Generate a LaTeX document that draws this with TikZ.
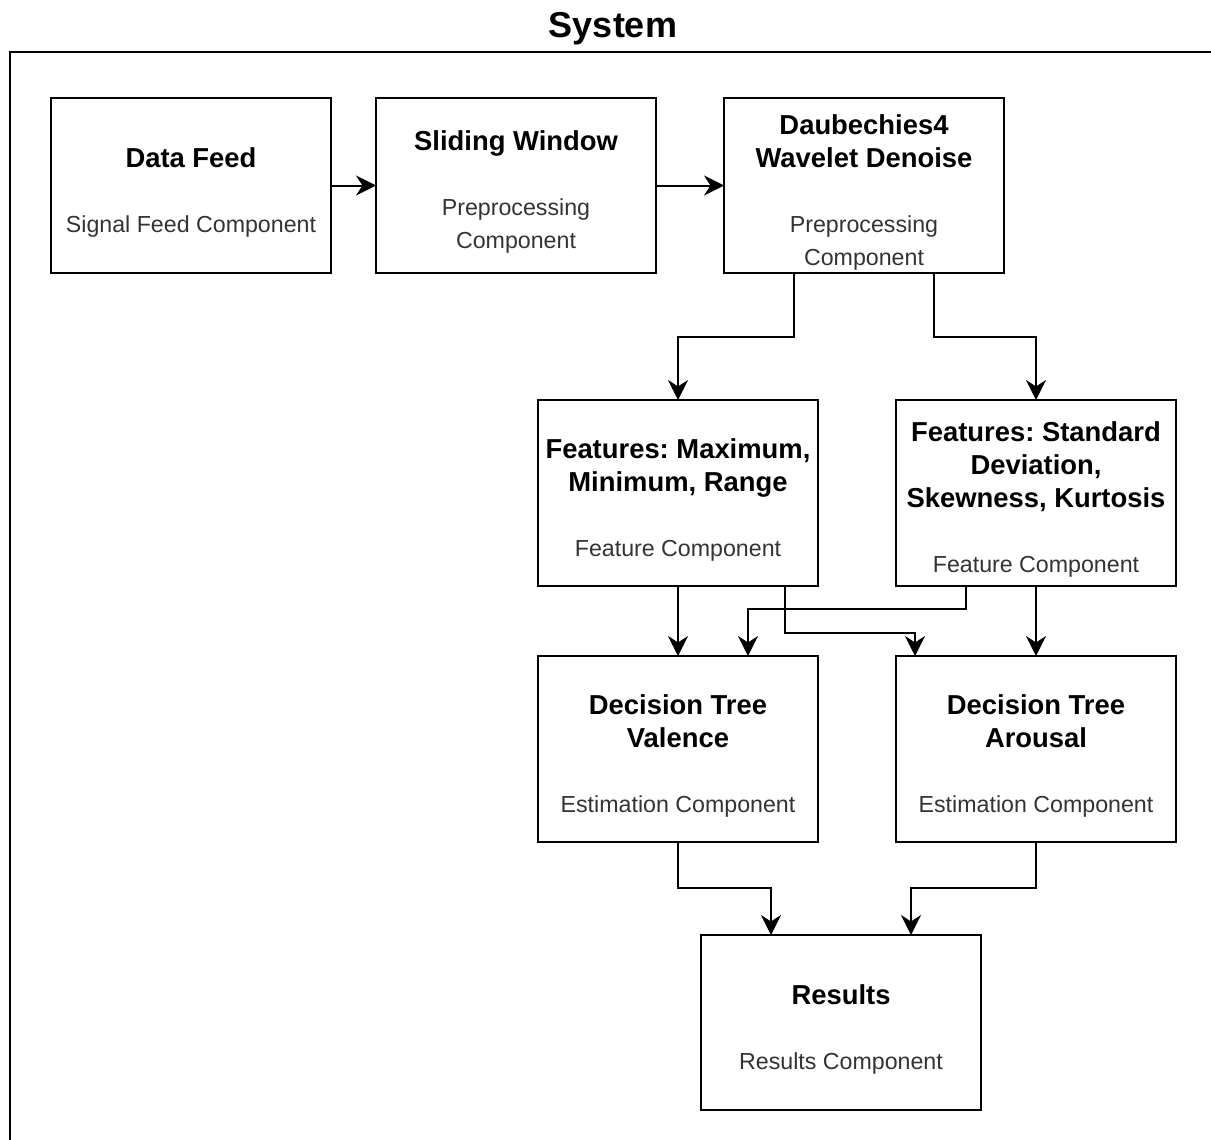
\documentclass[tikz,border=0pt]{standalone}
\usepackage{fontspec}
\setmainfont{Liberation Sans}
\usetikzlibrary{arrows.meta,positioning}
\frenchspacing
\definecolor{subgray}{HTML}{333333}
\newcommand{\compname}[1]{{\normalfont\color{subgray}\fontsize{11.6pt}{16.5pt}\selectfont #1}}
\newcommand{\blockstrut}{\rule{0pt}{14pt}}
\tikzset{
  node distance=0mm,
  >={Stealth[length=10pt,width=10pt]},
  every node/.style={outer sep=0mm,inner sep=0mm}
}
\tikzset{block/.style={
    draw,
    line width=1pt,
    minimum width=140pt,
    minimum height=#1,
    align=center,
    text depth=0pt,
    font=\bfseries\fontsize{13.7pt}{16.5pt}\selectfont
  },
  block/.default=87.5pt}
\tikzset{flow/.style={->,line width=1pt}}

\begin{document}
\begin{tikzpicture}
  \useasboundingbox (0,0) rectangle (605.5pt,-570pt);

  \node (System) [anchor=base,font=\bfseries\fontsize{18pt}{21pt}\selectfont] at (306.5pt,-18.5pt) {System};
  \draw [line width=1pt] (605.5pt,-26pt) -- (5pt,-26pt) -- (5pt,-570pt);

  \node (Data_feed) [block,anchor=north west] at (25.5pt,-49pt)
    {\blockstrut Data Feed\\[16pt]\compname{Signal Feed Component}};
  \node (Sliding_window) [block,right=22.5pt of Data_feed]
    {\blockstrut Sliding Window\\[16pt]\compname{Preprocessing}\\\compname{Component}};
  \node (Daub) [block,right=34pt of Sliding_window]
    {\blockstrut Daubechies4\\Wavelet Denoise\\[16pt]\compname{Preprocessing}\\\compname{Component}};

  \node (Feat_max) [block=93pt,below=63.5pt of Daub.south,xshift=-93pt]
    {\blockstrut Features: Maximum,\\Minimum, Range\\[16pt]\compname{Feature Component}};
  \node (Feat_std) [block=93pt,right=39pt of Feat_max]
    {\blockstrut Features: Standard\\Deviation,\\Skewness, Kurtosis\\[16pt]\compname{Feature Component}};

  \node (Tree_valence) [block=93pt,below=35pt of Feat_max]
    {\blockstrut Decision Tree\\Valence\\[16pt]\compname{Estimation Component}};
  \node (Tree_arousal) [block=93pt,below=35pt of Feat_std]
    {\blockstrut Decision Tree\\Arousal\\[16pt]\compname{Estimation Component}};

  \node (Results) [block,below=46.5pt of Tree_valence.south,xshift=81.5pt]
    {\blockstrut Results\\[16pt]\compname{Results Component}};

  \draw [flow] (Data_feed) -- (Sliding_window);
  \draw [flow] (Sliding_window) -- (Daub);

  \draw [flow] ([xshift=-35pt] Daub.south) -- ++(0,-31.75pt) -| (Feat_max.north);
  \draw [flow] ([xshift=35pt] Daub.south) -- ++(0,-31.75pt) -| (Feat_std.north);

  \draw [flow] (Feat_max) -- (Tree_valence);
  \draw [flow] ([xshift=53.5pt] Feat_max.south)
  -- ++(0,-23.5pt) -| ([xshift=-60.5pt] Tree_arousal.north);
  \draw [flow] ([xshift=-35pt] Feat_std.south)
  -- ++(0,-11.5pt) -| ([xshift=35pt] Tree_valence.north);
  \draw [flow] (Feat_std) -- (Tree_arousal);

  \draw [flow] (Tree_valence.south) -- ++(0,-23pt) -| ([xshift=-35pt] Results.north);
  \draw [flow] (Tree_arousal.south) -- ++(0,-23pt) -| ([xshift=35pt] Results.north);
\end{tikzpicture}
\end{document}
